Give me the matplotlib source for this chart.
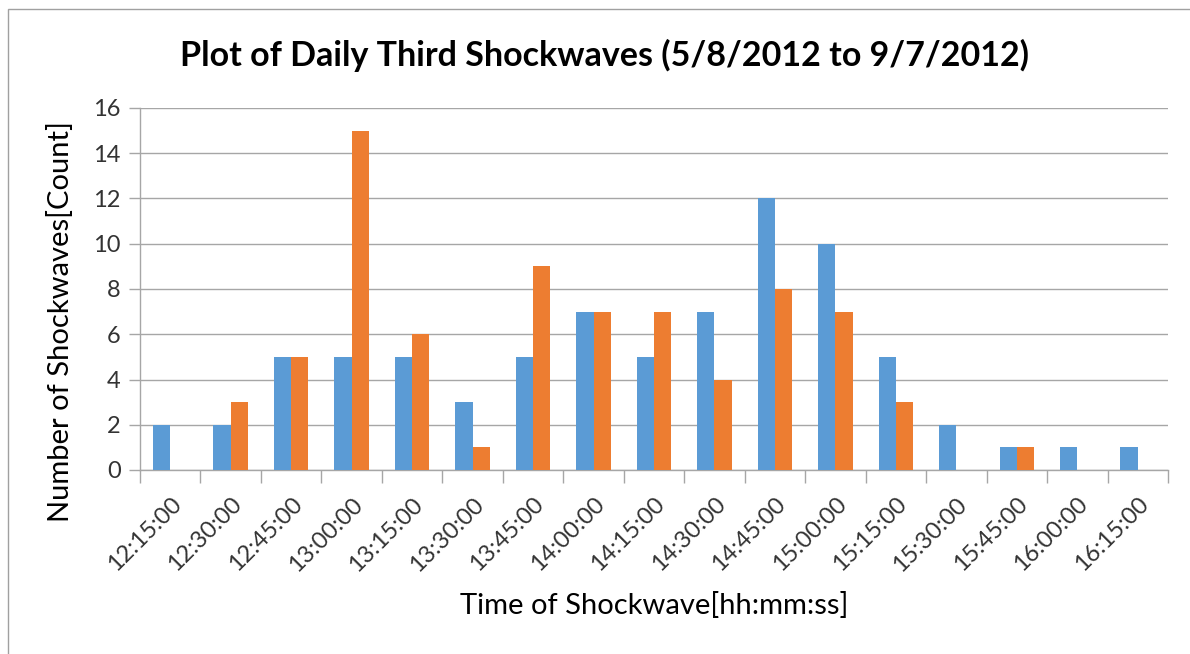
import matplotlib
matplotlib.use("Agg")
import matplotlib.pyplot as plt
import numpy as np
from matplotlib.patches import Rectangle

categories = ["12:15:00", "12:30:00", "12:45:00", "13:00:00", "13:15:00", "13:30:00",
              "13:45:00", "14:00:00", "14:15:00", "14:30:00", "14:45:00", "15:00:00",
              "15:15:00", "15:30:00", "15:45:00", "16:00:00", "16:15:00"]
series_blue = [2, 2, 5, 5, 5, 3, 5, 7, 5, 7, 12, 10, 5, 2, 1, 1, 1]
series_orange = [0, 3, 5, 15, 6, 1, 9, 7, 7, 4, 8, 7, 3, 0, 1, 0, 0]
y_ticks = [0, 2, 4, 6, 8, 10, 12, 14, 16]

plt.rcParams['font.family'] = ['Lato', 'DejaVu Sans']

W, H = 1190, 654
fig = plt.figure(figsize=(W / 100, H / 100), dpi=100)
ax = fig.add_axes([140 / W, 1 - 470 / H, (1168 - 140) / W, (470 - 108) / H])

x = np.arange(len(categories))
bw = 1 / 3.5
ax.bar(x - bw / 2, series_blue, width=bw, color="#5B9BD5", zorder=3)
ax.bar(x + bw / 2, series_orange, width=bw, color="#ED7D31", zorder=3)

ax.set_xlim(-0.5, len(categories) - 0.5)
ax.set_ylim(0, 16)
ax.set_yticks(y_ticks)
ax.set_yticklabels([str(v) for v in y_ticks], fontsize=17, color="#333333")
ax.yaxis.grid(True, color="#A6A6A6", linewidth=1.0, zorder=0)
ax.tick_params(axis="y", length=8, color="#A6A6A6", width=1.0, pad=6)

ax.set_xticks(x)
ax.set_xticklabels(categories, rotation=45, ha="right", rotation_mode="anchor",
                   fontsize=17, color="#333333")
ax.tick_params(axis="x", which="major", length=0, pad=17)
ax.set_xticks(np.arange(-0.5, len(categories), 1.0), minor=True)
ax.tick_params(axis="x", which="minor", length=9, color="#A6A6A6", width=1.0)

for s in ["top", "right"]:
    ax.spines[s].set_visible(False)
for s in ["left", "bottom"]:
    ax.spines[s].set_color("#A6A6A6")
    ax.spines[s].set_linewidth(1.0)

ax.set_ylabel("Number of Shockwaves[Count]", fontsize=21, color="#000000")
ax.yaxis.set_label_coords(-0.064, 0.41)
ax.set_xlabel("Time of Shockwave[hh:mm:ss]", fontsize=21, color="#000000", labelpad=12)

fig.text(0.508, 1 - 55 / H, "Plot of Daily Third Shockwaves (5/8/2012 to 9/7/2012)",
         ha="center", va="center", fontsize=24.5, fontweight="bold", color="#000000")

fig.patches.append(Rectangle((8 / W, -0.1), 1.2, 1 - 9 / H + 0.1, transform=fig.transFigure,
                             fill=False, edgecolor="#A0A0A0", linewidth=1.0))

fig.savefig("out.png", dpi=100, facecolor="white")
